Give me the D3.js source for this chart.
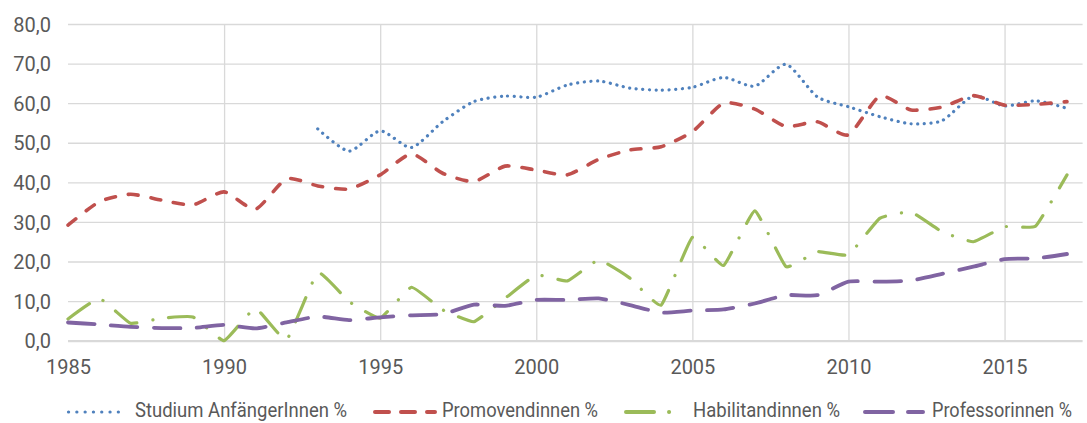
<html>
<head>
<meta charset="UTF-8">
<title>Frauenanteile</title>
<script src="https://d3js.org/d3.v7.min.js"></script>
<style>
body { margin: 0; background: #fff; }
text { font-family: Roboto, "Noto Sans", sans-serif; fill: #595959; }
.grid line { stroke: #d9d9d9; stroke-width: 1.3; }
.series { fill: none; stroke-linecap: round; stroke-linejoin: round; }
</style>
</head>
<body>
<div id="chart"></div>
<script>
var years = [1985, 1986, 1987, 1988, 1989, 1990, 1991, 1992, 1993, 1994, 1995, 1996,
             1997, 1998, 1999, 2000, 2001, 2002, 2003, 2004, 2005, 2006, 2007, 2008,
             2009, 2010, 2011, 2012, 2013, 2014, 2015, 2016, 2017];

var studium = [null, null, null, null, null, null, null, null, 53.5, 47.9, 53.0, 48.8,
               55.3, 60.4, 61.8, 61.5, 64.6, 65.6, 63.8, 63.3, 64.0, 66.5, 64.3, 69.8,
               61.6, 59.1, 56.6, 54.8, 55.6, 61.8, 59.3, 60.6, 58.7];
var promo = [29.2, 35.1, 37.0, 35.5, 34.3, 37.6, 33.2, 40.9, 39.1, 38.3, 41.9, 47.2,
             42.3, 40.2, 44.1, 43.1, 41.9, 45.8, 48.2, 49.0, 52.8, 60.0, 58.5, 54.1,
             55.3, 52.0, 61.8, 58.3, 59.0, 61.9, 59.5, 59.7, 60.4];
var habil = [5.5, 10.7, 4.4, 5.7, 6.0, 0.0, 8.2, 0.2, 17.2, 9.9, 5.7, 13.5,
             7.8, 4.8, 10.7, 16.6, 15.1, 20.4, 15.8, 9.0, 26.1, 19.0, 32.8, 18.7,
             22.5, 21.7, 30.9, 32.5, 27.5, 25.0, 28.8, 29.0, 41.9];
var prof = [4.6, 4.1, 3.5, 3.2, 3.2, 4.0, 3.1, 4.6, 6.1, 5.2, 5.9, 6.4,
            6.7, 9.1, 8.8, 10.3, 10.3, 10.7, 9.0, 7.1, 7.6, 7.9, 9.4, 11.5,
            11.5, 14.9, 14.9, 15.2, 16.9, 18.7, 20.6, 20.8, 21.9];

var seriesNames = ["Studium AnfängerInnen %", "Promovendinnen %", "Habilitandinnen %", "Professorinnen %"];
var seriesValues = [studium, promo, habil, prof];
var seriesColors = ["#4F81BD", "#C0504D", "#9BBB59", "#8064A2"];

var yTicks = [0, 10, 20, 30, 40, 50, 60, 70, 80];
var xTicks = [1985, 1990, 1995, 2000, 2005, 2010, 2015];

// line styles (plot, legend sample)
var dashes = ["0.1 6.5", "10 13", "26 16 0.1 16", "26.5 16.5"];
var widths = [3.2, 3.6, 3.2, 3.8];
var tensions = [0.3, 0.4, 0.65, 0.45];
var legendDashes = ["0.1 8.2", "14 12", "28 15 0.1 20", "28 15"];
var legendX = [[68.5, 126], [375, 435], [626, 672], [865, 923]];
var legendTextX = [135, 442, 693, 932];
var legendTextW = [212, 156, 147, 140];

var width = 1087, height = 423;

var svg = d3.select("#chart").append("svg")
    .attr("width", width)
    .attr("height", height);

svg.append("rect").attr("width", width).attr("height", height).attr("fill", "#fff");

var x = d3.scaleLinear().domain([1985, 2017.5]).range([68, 1082.6]);
var y = d3.scaleLinear().domain([0, 80]).range([340.7, 24]);

var fmt = function(d){ return d3.format(".1f")(d).replace(".", ","); };

// horizontal grid + y labels
var yAxis = svg.append("g")
    .attr("class", "grid")
    .attr("transform", "translate(" + x.range()[0] + ",0)")
    .call(d3.axisLeft(y).tickValues(yTicks).tickSize(-(x.range()[1] - x.range()[0])).tickPadding(17).tickFormat(fmt));
yAxis.select(".domain").remove();
yAxis.selectAll("text").attr("font-size", "20px").attr("dy", "0.36em").style("fill", "#595959");
yAxis.selectAll(".tick").filter(function(d){ return d === 0; }).select("line")
    .style("stroke-width", 2.2);

// vertical grid + x labels
var xAxis = svg.append("g")
    .attr("class", "grid")
    .attr("transform", "translate(0," + y(0) + ")")
    .call(d3.axisBottom(x).tickValues(xTicks).tickSize(-(y(0) - y(80))).tickPadding(0).tickFormat(d3.format("d")));
xAxis.select(".domain").remove();
xAxis.selectAll(".tick").filter(function(d){ return d === 1985; }).select("line").remove();
xAxis.selectAll("text").attr("font-size", "20px").attr("y", 33).attr("dy", 0).style("fill", "#595959");

// series
seriesValues.forEach(function(vals, i){
    var line = d3.line()
        .defined(function(d){ return d[1] != null; })
        .x(function(d){ return x(d[0]); })
        .y(function(d){ return y(d[1]); })
        .curve(d3.curveCardinal.tension(tensions[i]));
    svg.append("path")
        .datum(years.map(function(yr, j){ return [yr, vals[j]]; }))
        .attr("class", "series")
        .attr("stroke", seriesColors[i])
        .attr("stroke-width", widths[i])
        .attr("stroke-dasharray", dashes[i])
        .attr("d", line);
});

// legend
var legend = svg.append("g");
seriesNames.forEach(function(name, i){
    legend.append("line")
        .attr("x1", legendX[i][0]).attr("x2", legendX[i][1])
        .attr("y1", 412).attr("y2", 412)
        .attr("stroke", seriesColors[i])
        .attr("stroke-width", i === 0 ? 3.2 : 4)
        .attr("stroke-linecap", "round")
        .attr("stroke-dasharray", legendDashes[i]);
    legend.append("text")
        .attr("x", legendTextX[i])
        .attr("y", 417)
        .attr("font-size", "19.5px")
        .attr("textLength", legendTextW[i])
        .attr("lengthAdjust", "spacingAndGlyphs")
        .text(name);
});
</script>
</body>
</html>
